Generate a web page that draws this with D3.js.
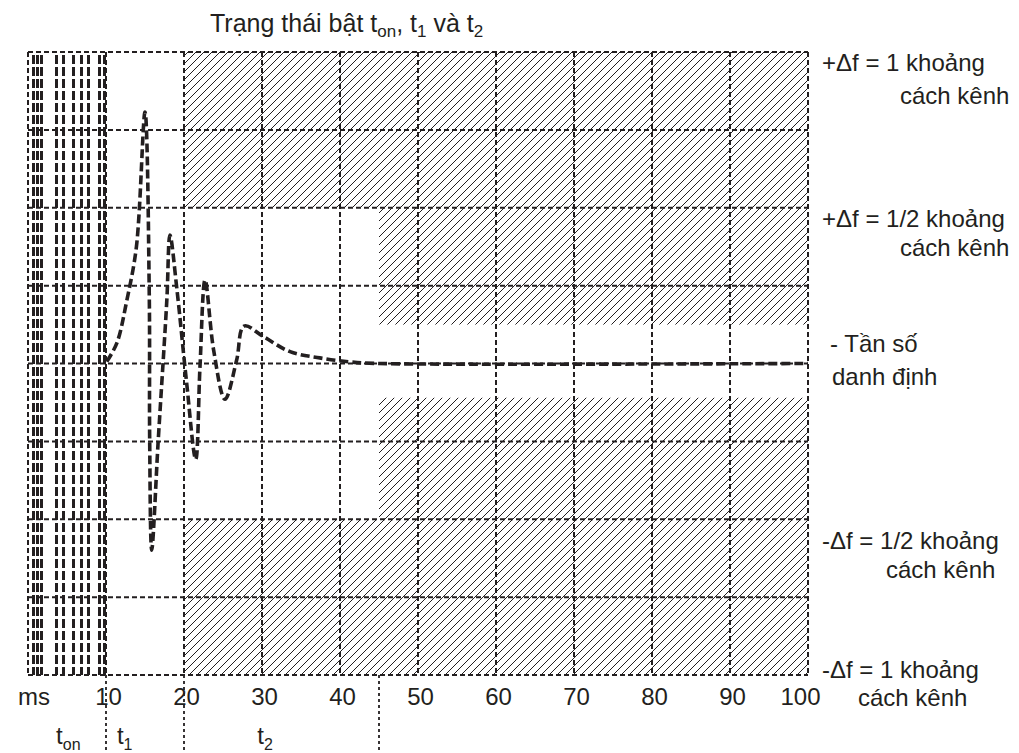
<!DOCTYPE html>
<html>
<head>
<meta charset="utf-8">
<title>Trạng thái bật</title>
<script src="https://d3js.org/d3.v7.min.js"></script>
<style>
  body { margin: 0; background: #fff; }
  svg { font-family: "Liberation Sans", Arial, sans-serif; }
  text { fill: #231f20; }
  .tick text { font-size: 24px; fill: #231f20; }
</style>
</head>
<body>
<script>
// ---- data ----
var xTicks = [10, 20, 30, 40, 50, 60, 70, 80, 90, 100];
var yGrid = [-1, -0.75, -0.5, -0.25, 0, 0.25, 0.5, 0.75, 1];

// time (ms) and frequency error (in channel spacings) of the dashed curve
var curveMs = [10.1, 11.4, 12.65, 13.9, 15.0, 15.55, 15.6, 15.86, 16.7, 17.8, 18.2, 19.1, 20.3, 21.5,
               22.05, 22.7, 23.8, 25.25, 26.75, 27.7, 30.2, 33.6, 37.4, 41.3, 45, 100];
var curveDf = [0.006, 0.066, 0.2, 0.375, 0.807, 0.214, -0.245, -0.599, -0.245, 0.204, 0.412, 0.236, -0.053, -0.308,
               -0.01, 0.268, 0.043, -0.115, 0.011, 0.12, 0.086, 0.038, 0.018, 0.005, 0, 0];

// forbidden (hatched) zones: [ms from, ms to, df from, df to]
var zoneMs0 = [20, 20, 45, 45];
var zoneMs1 = [100, 100, 100, 100];
var zoneDf0 = [0.5, -1, 0.125, -0.5];
var zoneDf1 = [1, -0.5, 0.5, -0.11];

// heavy dashed bars filling the t_on interval (ms)
var tonBars = [0.62, 1.13, 1.67, 3.65, 4.5, 5.77, 6.76, 7.7, 9.06, 9.74];

// phase boundaries below the axis (ms)
var phaseEdges = [10, 20, 45];
var phaseNames = ["on", "1", "2"];
var phaseAt = [3.6, 11.4, 29.4];

var rightLabels = [
  ["+\u0394f = 1 khoảng", "cách kênh"],
  ["+\u0394f = 1/2 khoảng", "cách kênh"],
  ["- Tần số", "danh định"],
  ["-\u0394f = 1/2 khoảng", "cách kênh"],
  ["-\u0394f = 1 khoảng", "cách kênh"]
];

// ---- layout ----
var width = 1019, height = 753;
var x = d3.scaleLinear().domain([0, 100]).range([28, 808]);
var y = d3.scaleLinear().domain([-1, 1]).range([675, 52]);
var ink = "#231f20";

var svg = d3.select("body").append("svg")
    .attr("width", width)
    .attr("height", height);

var defs = svg.append("defs");
var pat = defs.append("pattern")
    .attr("id", "hatch")
    .attr("patternUnits", "userSpaceOnUse")
    .attr("width", 8)
    .attr("height", 8);
pat.append("path")
    .attr("d", "M-2,2 L2,-2 M0,8 L8,0 M6,10 L10,6")
    .attr("stroke", ink)
    .attr("stroke-width", 1.0);

// hatched zones
svg.selectAll("rect.zone")
    .data(d3.range(zoneMs0.length))
    .enter().append("rect")
    .attr("class", "zone")
    .attr("x", function (i) { return x(zoneMs0[i]); })
    .attr("y", function (i) { return y(zoneDf1[i]); })
    .attr("width", function (i) { return x(zoneMs1[i]) - x(zoneMs0[i]); })
    .attr("height", function (i) { return y(zoneDf0[i]) - y(zoneDf1[i]); })
    .attr("fill", "url(#hatch)");

// t_on bars
svg.selectAll("line.ton")
    .data(tonBars)
    .enter().append("line")
    .attr("class", "ton")
    .attr("x1", function (d) { return Math.round(x(d)) + 0.5; })
    .attr("x2", function (d) { return Math.round(x(d)) + 0.5; })
    .attr("y1", y(1) + 3)
    .attr("y2", y(-1))
    .attr("stroke", ink)
    .attr("stroke-width", 3)
    .attr("stroke-dasharray", "9,3");

// grid: horizontal
svg.selectAll("line.hgrid")
    .data(yGrid)
    .enter().append("line")
    .attr("class", "hgrid")
    .attr("x1", x(0))
    .attr("x2", x(100))
    .attr("y1", function (d) { return y(d); })
    .attr("y2", function (d) { return y(d); })
    .attr("stroke", ink)
    .attr("stroke-width", 2)
    .attr("stroke-dasharray", "5,3");

// grid: vertical
svg.selectAll("line.vgrid")
    .data([0].concat(xTicks))
    .enter().append("line")
    .attr("class", "vgrid")
    .attr("x1", function (d) { return x(d); })
    .attr("x2", function (d) { return x(d); })
    .attr("y1", y(1))
    .attr("y2", y(-1))
    .attr("stroke", ink)
    .attr("stroke-width", 2)
    .attr("stroke-dasharray", "5,3");

// phase boundaries below the plot
svg.selectAll("line.phase")
    .data(phaseEdges)
    .enter().append("line")
    .attr("class", "phase")
    .attr("x1", function (d) { return x(d); })
    .attr("x2", function (d) { return x(d); })
    .attr("y1", y(-1))
    .attr("y2", height)
    .attr("stroke", ink)
    .attr("stroke-width", 1.8)
    .attr("stroke-dasharray", "3,3");

// the curve
var line = d3.line()
    .x(function (i) { return x(curveMs[i]); })
    .y(function (i) { return y(curveDf[i]); })
    .curve(d3.curveCatmullRom.alpha(0.5));

svg.append("path")
    .datum(d3.range(curveMs.length))
    .attr("d", line)
    .attr("fill", "none")
    .attr("stroke", ink)
    .attr("stroke-width", 3.6)
    .attr("stroke-dasharray", "9,4");

// x tick labels
var xAxis = d3.axisBottom(x).tickValues(xTicks).tickSize(0).tickPadding(0);
var ax = svg.append("g")
    .attr("transform", "translate(2,705)")
    .call(xAxis);
ax.select(".domain").remove();
ax.selectAll(".tick text")
    .attr("dy", 0)
    .attr("dx", function (d) { return d === 100 ? -10 : 0; })
    .attr("font-family", "Liberation Sans, Arial, sans-serif");

svg.append("text")
    .attr("x", 18)
    .attr("y", 705)
    .attr("font-size", 24)
    .text("ms");

// title
var title = svg.append("text")
    .attr("x", 210)
    .attr("y", 32)
    .attr("font-size", 25);
title.append("tspan").text("Trạng thái bật t");
title.append("tspan").attr("font-size", 17).attr("dy", 5).text("on");
title.append("tspan").attr("dy", -5).text(", t");
title.append("tspan").attr("font-size", 17).attr("dy", 5).text("1");
title.append("tspan").attr("dy", -5).text(" và t");
title.append("tspan").attr("font-size", 17).attr("dy", 5).text("2");

// phase labels
phaseNames.forEach(function (n, i) {
  var t = svg.append("text")
      .attr("x", x(phaseAt[i]))
      .attr("y", 744)
      .attr("font-size", 24);
  t.append("tspan").text("t");
  t.append("tspan").attr("font-size", 16).attr("dy", 6).text(n);
});

// right side labels
var labelX = [[822, 900], [822, 900], [830, 832], [822, 886], [822, 858]];
var labelY = [[71, 104], [227, 256], [352, 385], [549, 578], [678, 706]];
rightLabels.forEach(function (pair, i) {
  pair.forEach(function (s, j) {
    svg.append("text")
        .attr("x", labelX[i][j])
        .attr("y", labelY[i][j])
        .attr("font-size", 24)
        .text(s);
  });
});
</script>
</body>
</html>
